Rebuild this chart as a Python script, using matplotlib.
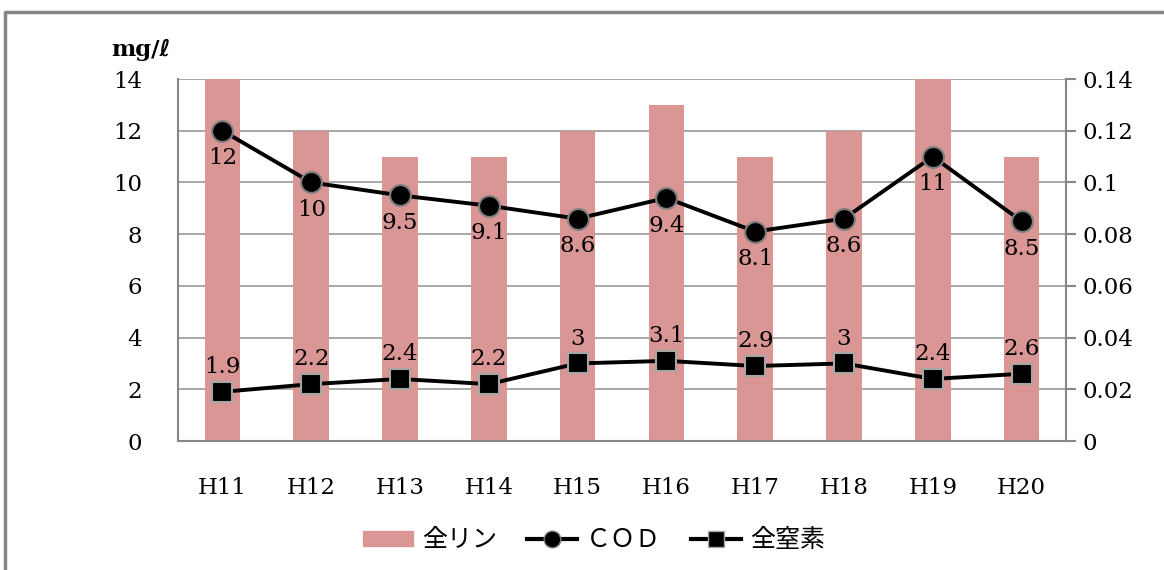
import matplotlib
matplotlib.use("Agg")
import matplotlib.pyplot as plt
from matplotlib.lines import Line2D
import numpy as np

years = ["H11", "H12", "H13", "H14", "H15", "H16", "H17", "H18", "H19", "H20"]
phosphorus = [0.14, 0.12, 0.11, 0.11, 0.12, 0.13, 0.11, 0.12, 0.14, 0.11]
cod = [12, 10, 9.5, 9.1, 8.6, 9.4, 8.1, 8.6, 11, 8.5]
nitrogen = [1.9, 2.2, 2.4, 2.2, 3, 3.1, 2.9, 3, 2.4, 2.6]
cod_labels = ["12", "10", "9.5", "9.1", "8.6", "9.4", "8.1", "8.6", "11", "8.5"]
n_labels = ["1.9", "2.2", "2.4", "2.2", "3", "3.1", "2.9", "3", "2.4", "2.6"]

serif = ["DejaVu Serif", "DejaVu Sans"]
cjk = ["Noto Sans CJK JP", "DejaVu Sans"]
bar_color = "#d99694"
grid_color = "#a0a0a0"
fs = 16.5

fig = plt.figure(figsize=(11.64, 5.70), dpi=100)
ax = fig.add_axes([178 / 1164, 1 - 441 / 570, 888 / 1164, 362 / 570])
ax2 = ax.twinx()

x = np.arange(len(years))

# phosphorus bars on the right-hand scale
ax2.bar(x, phosphorus, width=0.4, color=bar_color, zorder=1)
ax2.set_ylim(0, 0.14)
ax2.set_yticks(np.arange(0, 0.141, 0.02))
ax2.set_yticklabels(["0", "0.02", "0.04", "0.06", "0.08", "0.1", "0.12", "0.14"])

# lines drawn on the left scale, which sits above the bars
ax.set_zorder(ax2.get_zorder() + 1)
ax.patch.set_visible(False)
ax2.patch.set_visible(True)
ax2.patch.set_facecolor("white")

ax.set_xlim(-0.5, len(years) - 0.5)
ax.set_ylim(0, 14)
ax.set_yticks(range(0, 15, 2))

# horizontal gridlines drawn on the bar axis so they sit behind the bars
for yv in np.arange(0.02, 0.141, 0.02):
    ax2.axhline(yv, color=grid_color, lw=1.3, zorder=0)

ax.plot(x, cod, color="black", lw=2.8, marker="o", ms=15,
        mfc="black", mec="#7f7f7f", mew=1.5, zorder=3)
ax.plot(x, nitrogen, color="black", lw=2.8, marker="s", ms=14,
        mfc="black", mec="#a6a6a6", mew=1.5, zorder=3)

for xi, v, t in zip(x, cod, cod_labels):
    ax.annotate(t, (xi, v), xytext=(0, -12), textcoords="offset points",
                ha="center", va="top", fontsize=fs, family=serif, zorder=4)
for xi, v, t in zip(x, nitrogen, n_labels):
    ax.annotate(t, (xi, v), xytext=(0, 10), textcoords="offset points",
                ha="center", va="bottom", fontsize=fs, family=serif, zorder=4)

ax.set_xticks(x)
ax.set_xticklabels(years)

for a in (ax, ax2):
    for s in a.spines.values():
        s.set_visible(False)
for side in ("left", "bottom", "right"):
    ax2.spines[side].set_visible(True)
    ax2.spines[side].set_color("#868686")
    ax2.spines[side].set_linewidth(1.5)

ax.tick_params(axis="y", length=0, pad=26, labelsize=fs)
ax.tick_params(axis="x", length=0, pad=26, labelsize=fs)
ax2.tick_params(axis="y", length=7, width=1.5, color="#868686", pad=5, labelsize=fs)
for lab in ax.get_xticklabels() + ax.get_yticklabels() + ax2.get_yticklabels():
    lab.set_family(serif)
ax2.tick_params(axis="x", length=0, labelbottom=False)

fig.text(141 / 1164, 1 - 50 / 570, "mg/ℓ", family=serif, fontweight="bold",
         fontsize=16.5, ha="center", va="center")

handles = [
    plt.Rectangle((0, 0), 1, 1, color=bar_color),
    Line2D([0], [0], color="black", lw=3, marker="o", ms=12, mfc="black", mec="#7f7f7f"),
    Line2D([0], [0], color="black", lw=3, marker="s", ms=11, mfc="black", mec="#a6a6a6"),
]
fig.legend(handles, ["全リン", "ＣＯＤ", "全窒素"], loc="center",
           bbox_to_anchor=(594 / 1164, 1 - 540 / 570), ncol=3, frameon=False,
           prop={"family": cjk, "size": 18}, handlelength=2.0, handleheight=0.55,
           columnspacing=1.2, handletextpad=0.35)

# outer frame along the top and left edges
fig.add_artist(Line2D([5 / 1164, 5 / 1164, 1], [0, 1 - 12 / 570, 1 - 12 / 570],
                      transform=fig.transFigure, color="#868686", lw=2.5))

fig.savefig("out.png", dpi=100, facecolor="white")
